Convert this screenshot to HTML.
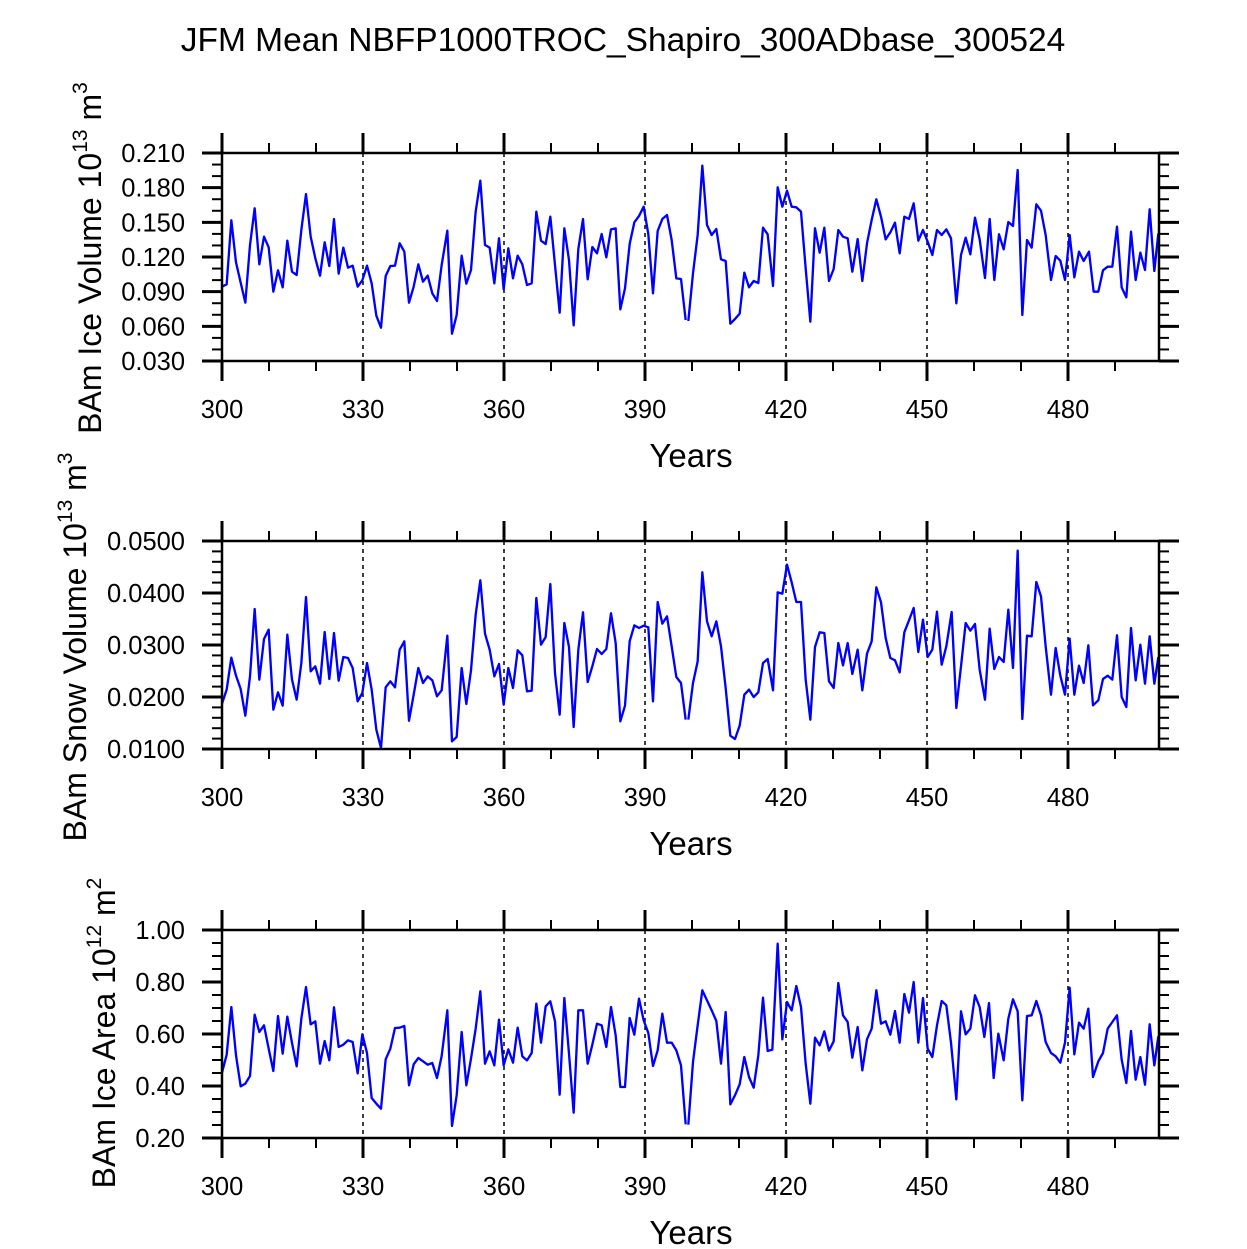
<!DOCTYPE html>
<html><head><meta charset="utf-8"><style>
html,body{margin:0;padding:0;background:#fff;}
svg{display:block;font-family:"Liberation Sans",Arial,sans-serif;}
</style></head><body>
<svg id="s" width="1247" height="1249" viewBox="0 0 1247 1249" xmlns="http://www.w3.org/2000/svg">
<rect width="1247" height="1249" fill="#fff"/>
<text x="623" y="51" font-size="33.5" text-anchor="middle">JFM Mean NBFP1000TROC_Shapiro_300ADbase_300524</text>
<g id="p1"></g><g id="p2"></g><g id="p3"></g>
<text transform="translate(101,258) rotate(-90)" font-size="32" text-anchor="middle">BAm Ice Volume 10<tspan font-size="21" dy="-14">13</tspan><tspan dy="14"> m</tspan><tspan font-size="21" dy="-14">3</tspan></text>
<text transform="translate(86,647) rotate(-90)" font-size="32" text-anchor="middle">BAm Snow Volume 10<tspan font-size="21" dy="-14">13</tspan><tspan dy="14"> m</tspan><tspan font-size="21" dy="-14">3</tspan></text>
<text transform="translate(115,1033) rotate(-90)" font-size="32" text-anchor="middle">BAm Ice Area 10<tspan font-size="21" dy="-14">12</tspan><tspan dy="14"> m</tspan><tspan font-size="21" dy="-14">2</tspan></text>
</svg>
<script>
var NS="http://www.w3.org/2000/svg";
function el(p,t,a,txt){var e=document.createElementNS(NS,t);for(var k in a)e.setAttribute(k,a[k]);if(txt!==undefined)e.textContent=txt;p.appendChild(e);return e;}
var L=222,R=1159;
var panels=[
 {g:"p1",top:153,labels:["0.210","0.180","0.150","0.120","0.090","0.060","0.030"],sub:3,
  d1:"21,425 35,418 49,226 63,352 77,413 91,473 105,300 119,190 133,358 147,275 161,307 175,440 189,376 203,427 217,287 231,380 245,390 259,255 273,147 287,275 301,340 315,392 329,292 343,363 357,222 371,386 385,308 399,368 413,362 428,425 442,406 456,362 470,415 484,512 498,548 512,393 526,363 540,362 554,295 568,320 582,473 596,425 610,358 624,410 638,392 652,445 666,468 680,360 697,257 711,566 725,510 740,332 754,416 768,375 782,200 796,107 810,300 824,308 838,415 852,280 866,433 880,310 894,400 908,332 922,358 936,420 950,415 964,200 978,287 992,297 1006,215 1020,360 1034,503 1048,250 1062,345 1076,541 1090,312 1104,222 1118,403 1132,306 1146,325 1160,267 1174,337 1188,253 1202,250 1216,493 1230,430 1244,297 1258,232 1272,213 1286,185 1300,268 1314,445 1328,258 1342,222 1356,210 1370,285 1384,400 1398,402 1412,525",
  d2:"10,528 24,385 38,270 52,62 66,240 80,270 94,252 108,343 122,348 136,536 150,522 164,506 178,383 192,427 206,408 220,414 234,248 248,268 264,423 278,127 292,185 306,137 320,185 334,187 348,200 362,370 376,530 390,250 404,323 418,248 432,408 446,372 460,255 474,275 488,280 502,380 518,282 532,408 546,295 560,225 574,163 588,215 602,283 616,262 630,233 644,325 658,215 672,222 686,175 700,287 714,255 728,290 742,330 756,255 770,270 784,253 798,280 814,475 828,330 842,278 856,328 870,218 884,283 900,399 914,222 928,405 942,268 956,313 970,231 984,243 998,75 1012,510 1026,285 1040,308 1054,178 1068,197 1082,270 1098,405 1112,333 1126,347 1140,405 1154,270 1168,397 1182,320 1196,348 1212,320 1226,440 1240,440 1254,376 1268,365 1282,365 1296,245 1310,427 1324,457 1338,260 1352,405 1366,323 1380,375 1394,193 1408,378 1420,265"},
 {g:"p2",top:541,labels:["0.0500","0.0400","0.0300","0.0200","0.0100"],sub:5,
  d1:"21,512 35,470 49,374 63,428 77,468 91,548 105,430 119,228 133,440 147,318 161,290 175,530 189,478 203,518 217,305 231,440 245,500 259,390 273,192 287,415 301,400 315,452 329,297 343,438 357,300 371,443 385,372 399,375 413,405 428,505 442,480 456,390 470,470 484,590 498,645 512,463 526,445 540,463 554,350 568,325 582,563 596,485 610,405 624,450 638,430 652,442 666,490 680,472 697,308 711,625 725,612 740,405 754,513 768,412 782,245 796,142 810,302 824,350 838,430 852,393 866,515 880,405 894,465 908,352 922,367 936,475 950,473 964,195 978,335 992,312 1006,153 1020,420 1034,545 1048,270 1062,342 1076,582 1090,350 1104,238 1118,447 1132,400 1146,348 1160,363 1174,348 1188,241 1202,330 1216,565 1230,518 1244,325 1258,277 1272,285 1286,278 1300,283 1314,505 1328,207 1342,272 1356,250 1370,340 1384,432 1398,450 1412,560",
  d2:"10,560 24,450 38,385 52,118 66,265 80,310 94,265 108,340 122,465 136,608 150,618 164,578 178,485 192,470 206,492 220,478 234,390 248,378 264,472 278,178 292,182 306,95 320,148 334,207 348,207 362,440 376,560 390,342 404,298 418,300 432,445 446,465 460,330 474,397 488,330 502,423 518,350 532,472 546,362 560,325 574,163 588,208 602,315 616,375 630,382 644,418 658,298 672,262 686,225 700,357 714,260 728,372 742,350 756,236 770,395 784,340 800,237 814,525 828,400 842,270 856,293 870,273 884,410 900,500 914,287 928,408 942,372 956,387 970,230 984,405 998,53 1012,558 1026,308 1040,310 1054,147 1068,190 1082,340 1098,485 1112,345 1126,428 1140,485 1154,317 1168,485 1182,398 1196,450 1210,337 1224,517 1240,502 1254,438 1268,428 1282,440 1296,307 1310,492 1324,522 1338,285 1352,442 1366,335 1380,452 1394,310 1408,452 1420,372"},
 {g:"p3",top:930,labels:["1.00","0.80","0.60","0.40","0.20"],sub:4,
  d1:"21,452 35,398 49,255 63,400 77,493 91,485 105,462 119,278 133,330 147,310 161,380 175,447 189,282 203,395 217,284 231,363 245,433 259,290 273,195 287,307 301,298 315,425 329,357 343,415 357,256 371,375 385,368 399,355 413,360 428,454 442,337 456,393 470,528 484,545 498,560 512,412 526,380 540,318 554,317 568,312 582,490 596,427 610,408 624,418 638,428 652,423 666,468 680,402 697,265 711,612 725,520 740,330 754,490 768,410 782,320 796,208 810,425 824,388 838,430 852,293 866,430 880,382 894,422 908,317 922,403 936,415 950,393 964,245 978,362 992,253 1006,238 1020,298 1034,518 1048,228 1062,395 1076,572 1090,265 1104,265 1118,425 1132,368 1146,305 1160,310 1174,375 1188,255 1202,340 1216,495 1230,495 1244,288 1258,338 1272,230 1286,295 1300,333 1314,432 1328,385 1342,275 1356,362 1370,362 1384,385 1398,430 1412,607",
  d2:"10,608 24,420 38,310 52,205 66,235 80,265 94,297 108,425 122,270 136,547 150,520 164,487 178,405 192,465 206,497 220,400 234,227 248,387 262,383 278,65 292,352 306,240 320,265 334,192 348,255 362,425 376,545 390,347 404,370 418,328 432,386 446,358 460,183 474,280 488,300 502,407 518,315 532,445 546,352 560,320 574,205 588,305 602,298 616,338 630,267 644,362 658,216 672,272 686,180 700,362 714,228 728,380 742,405 756,310 770,237 784,250 798,362 814,532 828,268 842,337 856,320 870,220 884,255 898,345 912,243 926,468 940,335 956,415 970,290 984,232 998,268 1012,535 1026,282 1040,280 1054,237 1068,280 1082,360 1098,393 1112,403 1126,422 1140,362 1154,197 1168,397 1182,302 1196,320 1210,260 1224,465 1240,418 1254,393 1268,320 1282,300 1296,280 1310,413 1324,483 1338,327 1352,473 1366,405 1380,488 1394,307 1408,430 1420,343"}
];
panels.forEach(function(p){
 var g=document.getElementById(p.g),T=p.top,B=T+208;
 for(var yr=330;yr<=480;yr+=30){var x=L+(yr-300)*4.7;el(g,"line",{x1:x,y1:T,x2:x,y2:B,stroke:"#000","stroke-width":1.5,"stroke-dasharray":"4,4"});}
 var oy=T-8;
 el(g,"polyline",{points:p.d1,transform:"translate(215,"+oy+") scale(0.33333)",fill:"none",stroke:"#0000ff","stroke-width":7,"stroke-linejoin":"round"});
 el(g,"polyline",{points:p.d2,transform:"translate(685,"+oy+") scale(0.33333)",fill:"none",stroke:"#0000ff","stroke-width":7,"stroke-linejoin":"round"});
 el(g,"rect",{x:L,y:T,width:R-L,height:208,stroke:"#000","stroke-width":2.5,fill:"none"});
 for(var yr=300;yr<=490;yr+=10){var x=L+(yr-300)*4.7,maj=(yr%30==0),len=maj?20:10;
  el(g,"line",{x1:x,y1:T,x2:x,y2:T-len,stroke:"#000","stroke-width":maj?3:2});
  el(g,"line",{x1:x,y1:B,x2:x,y2:B+len,stroke:"#000","stroke-width":maj?3:2});
  if(maj)el(g,"text",{x:x,y:B+57,"font-size":25.5,"text-anchor":"middle"},String(yr));}
 var n=p.labels.length-1,step=208/n;
 for(var i=0;i<=n;i++){var y=T+i*step;
  el(g,"line",{x1:L-20,y1:y,x2:L,y2:y,stroke:"#000","stroke-width":3});
  el(g,"line",{x1:R,y1:y,x2:R+20,y2:y,stroke:"#000","stroke-width":3});
  el(g,"text",{x:185,y:y+9,"font-size":25.5,"text-anchor":"end"},p.labels[i]);
  if(i<n)for(var j=1;j<p.sub;j++){var yy=y+j*step/p.sub;
   el(g,"line",{x1:L-10,y1:yy,x2:L,y2:yy,stroke:"#000","stroke-width":2});
   el(g,"line",{x1:R,y1:yy,x2:R+10,y2:yy,stroke:"#000","stroke-width":2});}}
 el(g,"text",{x:691,y:B+106,"font-size":33,"text-anchor":"middle"},"Years");
});
</script>
</body></html>
